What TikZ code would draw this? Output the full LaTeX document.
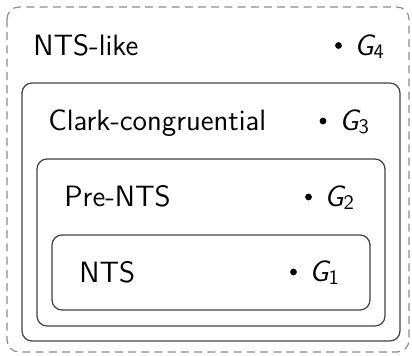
\documentclass[tikz,border=0pt]{standalone}
\usepackage{fontspec}
\newcommand{\subidx}[1]{\raisebox{-1.6pt}{\fontsize{10.3}{12}\selectfont #1}}
\begin{document}
\begin{tikzpicture}[x=0.5pt,y=-0.5pt,
  setbox/.style={draw=black!75,line width=0.6pt,rounded corners=5pt},
  outerbox/.style={draw=black!45,line width=0.6pt,rounded corners=6pt,dash pattern=on 4pt off 2.6pt},
  lbl/.style={anchor=base west,inner sep=0pt,font=\sffamily\fontsize{14.7}{17}\selectfont},
  dot/.style={circle,fill=black,inner sep=0pt,minimum size=3.4pt},
  pt/.style={anchor=base west,inner sep=0pt,font=\sffamily\fontsize{14.7}{17}\selectfont}]
\useasboundingbox (0,0) rectangle (412,355);
\draw[outerbox] (7,7) rectangle (409,352);
\draw[setbox] (22,83) rectangle (400,341);
\draw[setbox] (37,159) rectangle (385,326);
\draw[setbox] (52,235) rectangle (370,310);
\node[lbl] (l4) at (33,55) {NTS-like};
\node[lbl] (l3) at (48,130) {Clark-congruential};
\node[lbl] (l2) at (64,206) {Pre-NTS};
\node[lbl] (l1) at (79,282) {NTS};
\node[dot] (d4) at (338.5,45.5) {};
\node[dot] (d3) at (323,121) {};
\node[dot] (d2) at (308.5,197) {};
\node[dot] (d1) at (293.5,272) {};
\node[pt] (g4) at (354,55) {{\itshape G}\subidx{4}};
\node[pt] (g3) at (339,130) {{\itshape G}\subidx{3}};
\node[pt] (g2) at (324,206) {{\itshape G}\subidx{2}};
\node[pt] (g1) at (309,281) {{\itshape G}\subidx{1}};
\end{tikzpicture}
\end{document}
